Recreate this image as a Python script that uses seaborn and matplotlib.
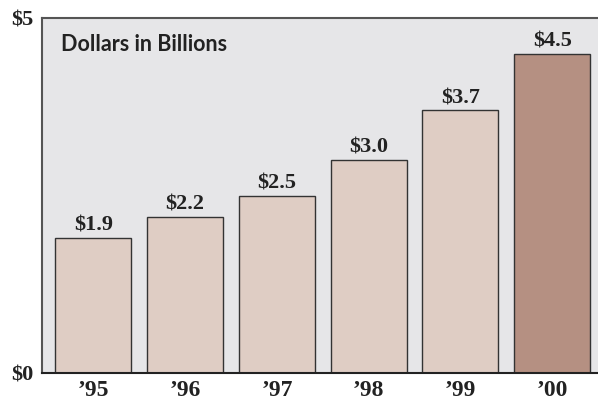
import matplotlib
matplotlib.use("Agg")
import matplotlib.pyplot as plt
import seaborn as sns
import pandas as pd

years = ["\u201995", "\u201996", "\u201997", "\u201998", "\u201999", "\u201900"]
values = [1.9, 2.2, 2.5, 3.0, 3.7, 4.5]
labels = ["$1.9", "$2.2", "$2.5", "$3.0", "$3.7", "$4.5"]
bar_colors = ["#dfcdc4", "#dfcdc4", "#dfcdc4", "#dfcdc4", "#dfcdc4", "#b59082"]

df = pd.DataFrame({"year": years, "value": values})

sns.set_style("white")
plt.rcParams["font.family"] = ["Liberation Serif", "DejaVu Serif"]

fig = plt.figure(figsize=(5.98, 4.0), dpi=100)
ax = fig.add_axes([42 / 598, 27 / 400, 556 / 598, 355 / 400])
ax.set_facecolor("#e6e6e8")

sns.barplot(data=df, x="year", y="value", hue="year", palette=bar_colors,
            legend=False, width=0.83, edgecolor="#333333", linewidth=1.0,
            saturation=1, ax=ax)

for i, (v, t) in enumerate(zip(values, labels)):
    ax.text(i, v + 0.03, t, ha="center", va="bottom", fontsize=16,
            fontweight="bold", color="#222222")

ax.set_xlim(-0.56, 5.5)
ax.set_ylim(0, 5)
ax.set_yticks([0, 5])
ax.set_yticklabels(["$0", "$5"], fontsize=16, fontweight="bold", color="#222222")
ax.tick_params(axis="y", length=0, pad=6)
ax.tick_params(axis="x", length=0, pad=5)
for lbl in ax.get_xticklabels():
    lbl.set_fontsize(17)
    lbl.set_fontweight("bold")
    lbl.set_color("#222222")
ax.set_xlabel("")
ax.set_ylabel("")

for side in ["top", "left"]:
    ax.spines[side].set_color("#555555")
    ax.spines[side].set_linewidth(1.5)
ax.spines["bottom"].set_color("#222222")
ax.spines["bottom"].set_linewidth(1.5)
ax.spines["right"].set_visible(False)

ax.text(0.035, 0.955, "Dollars in Billions", transform=ax.transAxes,
        ha="left", va="top", fontsize=15.5, fontweight="bold",
        family=["Lato", "DejaVu Sans"], color="#222222")

fig.savefig("out.png", dpi=100)
